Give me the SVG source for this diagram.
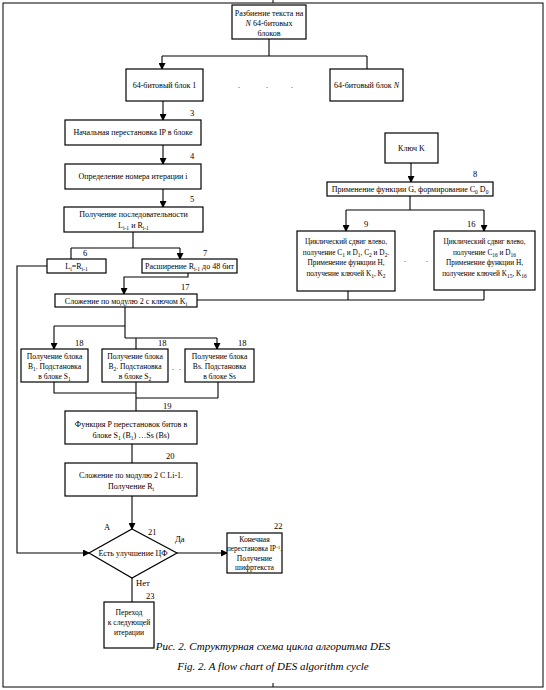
<svg xmlns="http://www.w3.org/2000/svg" width="546" height="690" viewBox="0 0 546 690">
<defs>
<marker id="ah" markerWidth="7" markerHeight="7" refX="6" refY="3.5" orient="auto" markerUnits="userSpaceOnUse">
<path d="M0,0 L7,3.5 L0,7 Z" fill="#000"/>
</marker>
<style>
.b{fill:#fff;stroke:#000;stroke-width:1.2}
.l{fill:none;stroke:#000;stroke-width:1.1}
.a{fill:none;stroke:#000;stroke-width:1.1;marker-end:url(#ah)}
text{font-family:"Liberation Serif","Times New Roman",serif;font-size:8px;fill:#000}
.c{text-anchor:middle}
.n{font-size:8.5px}
.t{font-size:7.6px}
.w{font-size:7.3px}
.u{font-size:7.2px}
.cap{font-size:11px;font-style:italic;text-anchor:middle}
.s{font-size:5.5px}
</style>
</defs>
<rect x="0" y="0" width="546" height="690" fill="#fff"/>
<g id="frame">
<rect x="3" y="3" width="540" height="684" fill="none" stroke="#000" stroke-width="1"/>
<line x1="273" y1="0" x2="273" y2="3" stroke="#000"/>
<line x1="273" y1="683" x2="273" y2="687" stroke="#000"/>
</g>
<g id="connectors">
<path class="l" d="M269,39 V56 M162,56 H367 M367,56 V69"/>
<path class="a" d="M162,56 V69"/>
<path class="a" d="M163,101 V120"/>
<path class="a" d="M163,145 V164"/>
<path class="a" d="M163,189 V207"/>
<path class="l" d="M133,232 V248 M71,248 H180 M71,248 V259"/>
<path class="a" d="M180,248 V259"/>
<path class="a" d="M188,273 V277 H124 V294"/>
<path class="l" d="M197,300 H484 M348,291 V300 M484,290 V300"/>
<path class="a" d="M411,163 V182"/>
<path class="l" d="M410,196 V210 M346,210 H484"/>
<path class="a" d="M346,210 V231"/>
<path class="a" d="M484,210 V231"/>
<path class="l" d="M125,306 V338 M54,326 H125 M125,338 H217 M136,338 V349"/>
<path class="a" d="M54,326 V349"/>
<path class="a" d="M217,338 V349"/>
<path class="l" d="M54,382 V393 H136 M136,382 V411 M136,398 H218 M218,382 V398"/>
<path class="l" d="M132,444 V463"/>
<path class="a" d="M132,496 V529"/>
<path class="a" d="M177,553 H227"/>
<path class="a" d="M47,266 H17 V553 H89"/>
<path class="l" d="M132,578 V602"/>
</g>
<g id="split">
<rect class="b" x="232" y="5" width="74" height="34"/>
<text class="c" x="269" y="16">Разбиение текста на</text>
<text class="c" x="269" y="26"><tspan font-style="italic">N</tspan> 64-битовых</text>
<text class="c" x="269" y="36">блоков</text>
</g>
<g id="block1">
<rect class="b" x="126" y="69" width="77" height="32"/>
<text class="c" x="164.5" y="88">64-битовый блок 1</text>
</g>
<g id="dots1">
<text class="c" x="239" y="88">.</text>
<text class="c" x="267" y="88">.</text>
<text class="c" x="292" y="88">.</text>
</g>
<g id="blockN">
<rect class="b" x="330" y="69" width="73" height="32"/>
<text class="c" x="366.5" y="88">64-битовый блок <tspan font-style="italic">N</tspan></text>
</g>
<g id="ip">
<text class="n" x="190" y="116">3</text>
<rect class="b" x="65" y="120" width="136" height="25"/>
<text class="c" x="133" y="135">Начальная перестановка IP в блоке</text>
</g>
<g id="iter">
<text class="n" x="190" y="159">4</text>
<rect class="b" x="65" y="164" width="136" height="25"/>
<text class="c" x="133" y="179">Определение номера итерации i</text>
</g>
<g id="seq">
<text class="n" x="190" y="202">5</text>
<rect class="b" x="64" y="207" width="139" height="25"/>
<text class="c" x="133.5" y="217">Получение последовательности</text>
<text class="c" x="133.5" y="228">L<tspan class="s" baseline-shift="-2">i-1</tspan> и R<tspan class="s" baseline-shift="-2">i-1</tspan></text>
</g>
<g id="li">
<text class="n" x="83" y="256">6</text>
<rect class="b" x="47" y="259" width="59" height="14"/>
<text class="c" x="76.5" y="269">L<tspan class="s" baseline-shift="-2">i</tspan>=R<tspan class="s" baseline-shift="-2">i-1</tspan></text>
</g>
<g id="expand">
<text class="n" x="203" y="256">7</text>
<rect class="b" x="142" y="259" width="95" height="14"/>
<text class="c" x="189.5" y="269">Расширение R<tspan class="s" baseline-shift="-2">i-1</tspan> до 48 бит</text>
</g>
<g id="xor">
<text class="n" x="181" y="290">17</text>
<rect class="b" x="55" y="294" width="142" height="13"/>
<text class="c" x="126" y="303.5">Сложение по модулю 2 с ключом K<tspan class="s" baseline-shift="-2">i</tspan></text>
</g>
<g id="key">
<rect class="b" x="385" y="133" width="53" height="30"/>
<text class="c" x="411.5" y="151">Ключ K</text>
</g>
<g id="g">
<text class="n" x="473" y="177">8</text>
<rect class="b" x="327" y="182" width="166" height="14"/>
<text class="c" x="410" y="192">Применение функции G, формирование C<tspan class="s" baseline-shift="-2">0</tspan> D<tspan class="s" baseline-shift="-2">0</tspan></text>
</g>
<g id="shift1">
<text class="n" x="364" y="227">9</text>
<rect class="b" x="297" y="231" width="98" height="60"/>
<text class="c w" x="346" y="244">Циклический сдвиг влево,</text>
<text class="c w" x="346" y="255">получение C<tspan class="s" baseline-shift="-2">1</tspan> и D<tspan class="s" baseline-shift="-2">1</tspan>, C<tspan class="s" baseline-shift="-2">2</tspan> и D<tspan class="s" baseline-shift="-2">2</tspan>.</text>
<text class="c w" x="346" y="265">Применение функции H,</text>
<text class="c w" x="346" y="276">получение ключей K<tspan class="s" baseline-shift="-2">1</tspan>, K<tspan class="s" baseline-shift="-2">2</tspan></text>
</g>
<g id="dots2">
<text class="c" x="405" y="262">.</text>
<text class="c" x="427" y="262">.</text>
</g>
<g id="shift16">
<text class="n" x="467" y="227">16</text>
<rect class="b" x="434" y="231" width="101" height="59"/>
<text class="c w" x="484.5" y="244">Циклический сдвиг влево,</text>
<text class="c w" x="484.5" y="255">получение C<tspan class="s" baseline-shift="-2">16</tspan> и D<tspan class="s" baseline-shift="-2">16</tspan></text>
<text class="c w" x="484.5" y="265">Применение функции H,</text>
<text class="c w" x="484.5" y="276">получение ключей K<tspan class="s" baseline-shift="-2">15</tspan>, K<tspan class="s" baseline-shift="-2">16</tspan></text>
</g>
<g id="s1">
<text class="n" x="75" y="346">18</text>
<rect class="b" x="21" y="349" width="67" height="33"/>
<text class="c t" x="54.5" y="359">Получение блока</text>
<text class="c t" x="54.5" y="369">B<tspan class="s" baseline-shift="-2">1</tspan>. Подстановка</text>
<text class="c t" x="54.5" y="379">в блоке S<tspan class="s" baseline-shift="-2">1</tspan></text>
</g>
<g id="s2">
<text class="n" x="158" y="346">18</text>
<rect class="b" x="102" y="349" width="66" height="33"/>
<text class="c t" x="135" y="359">Получение блока</text>
<text class="c t" x="135" y="369">B<tspan class="s" baseline-shift="-2">2</tspan>. Подстановка</text>
<text class="c t" x="135" y="379">в блоке S<tspan class="s" baseline-shift="-2">2</tspan></text>
</g>
<g id="dots3">
<text class="c" x="173" y="370">.</text>
<text class="c" x="180" y="370">.</text>
</g>
<g id="ss">
<text class="n" x="238" y="346">18</text>
<rect class="b" x="185" y="349" width="69" height="33"/>
<text class="c t" x="219.5" y="359">Получение блока</text>
<text class="c t" x="219.5" y="369">Bs. Подстановка</text>
<text class="c t" x="219.5" y="379">в блоке Ss</text>
</g>
<g id="p">
<text class="n" x="163" y="409">19</text>
<rect class="b" x="65" y="411" width="132" height="33"/>
<text class="c" x="131" y="427">Функция P перестановок  битов в</text>
<text class="c" x="131" y="438">блоке S<tspan class="s" baseline-shift="-2">1</tspan> (B<tspan class="s" baseline-shift="-2">1</tspan>) …Ss (Bs)</text>
</g>
<g id="xor2">
<text class="n" x="166" y="459">20</text>
<rect class="b" x="65" y="463" width="132" height="33"/>
<text class="c" x="131" y="478">Сложение по модулю 2 C Li-1.</text>
<text class="c" x="131" y="489">Получение R<tspan class="s" baseline-shift="-2">i</tspan></text>
</g>
<g id="decision">
<text class="n" x="104" y="530">A</text>
<text class="n" x="148" y="535">21</text>
<path class="b" d="M132,529 L177,553 L132,578 L89,553 Z"/>
<text class="c" x="133" y="556">Есть улучшение ЦФ</text>
<text class="n" x="175" y="542">Да</text>
<text class="n" x="136" y="586">Нет</text>
</g>
<g id="final">
<text class="n" x="274" y="529">22</text>
<rect class="b" x="227" y="533" width="55" height="40"/>
<text class="c t" x="254.5" y="542">Конечная</text>
<text class="c u" x="254.5" y="551">перестановка IP<tspan font-size="5px" baseline-shift="super">-1</tspan>.</text>
<text class="c t" x="254.5" y="561">Получение</text>
<text class="c t" x="254.5" y="570">шифртекста</text>
</g>
<g id="next">
<text class="n" x="146" y="599">23</text>
<rect class="b" x="104" y="602" width="50" height="46"/>
<text class="c t" x="129" y="615">Переход</text>
<text class="c t" x="129" y="625">к следующей</text>
<text class="c t" x="129" y="635">итерации</text>
</g>
<g id="caption">
<text class="cap" x="273" y="650">Рис. 2. Структурная схема цикла алгоритма DES</text>
<text class="cap" x="273" y="670">Fig. 2. A flow chart of DES algorithm cycle</text>
</g>
</svg>
